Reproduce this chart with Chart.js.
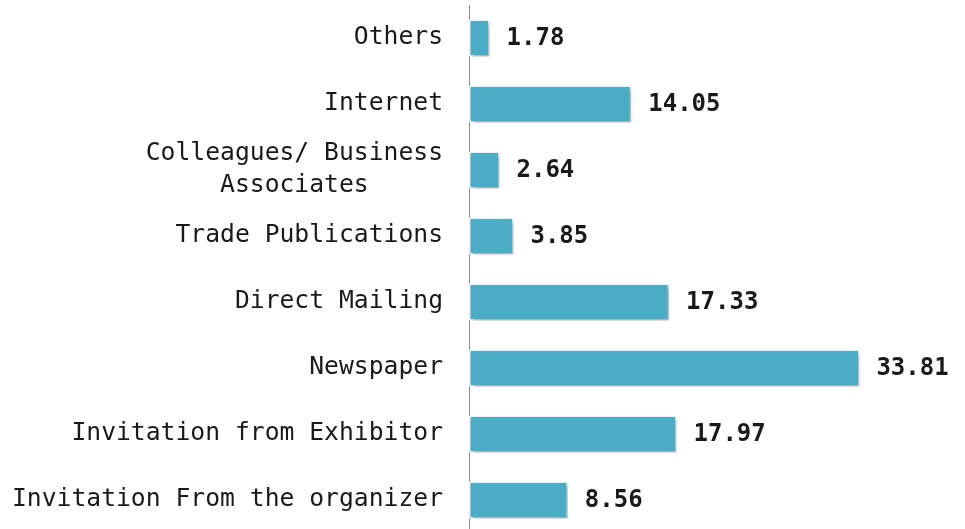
<!DOCTYPE html>
<html>
<head>
<meta charset="utf-8">
<script src="https://cdn.jsdelivr.net/npm/chart.js@4.4.1/dist/chart.umd.min.js"></script>
<style>
  html, body { margin: 0; padding: 0; background: #fff; overflow: hidden; }
  #wrap { width: 965px; height: 533px; position: relative; }
</style>
</head>
<body>
<div id="wrap"><canvas id="myChart"></canvas></div>
<script>
// dados do grafico
const categorias = [
    'Others',
    'Internet',
    ['Colleagues/ Business', 'Associates'],
    'Trade Publications',
    'Direct Mailing',
    'Newspaper',
    'Invitation from Exhibitor',
    'Invitation From the organizer'
];
const percentuais = [1.78, 14.05, 2.64, 3.85, 17.33, 33.81, 17.97, 8.56];
const rotulosValor = ['1.78', '14.05', '2.64', '3.85', '17.33', '33.81', '17.97', '8.56'];

const fonteMono = 'DejaVu Sans Mono';

// escreve o valor ao lado de cada barra
const valorPlugin = {
    id: 'valorPlugin',
    afterDatasetsDraw(chart) {
        const ctx = chart.ctx;
        const meta = chart.getDatasetMeta(0);
        ctx.save();
        ctx.font = 'bold 24px "' + fonteMono + '"';
        ctx.fillStyle = '#1a1a1a';
        ctx.textAlign = 'left';
        ctx.textBaseline = 'middle';
        meta.data.forEach((bar, i) => {
            ctx.fillText(rotulosValor[i], bar.x + 17, bar.y + 1);
        });
        ctx.restore();
    }
};

// sombra das barras
const sombraPlugin = {
    id: 'sombraPlugin',
    beforeDatasetDraw(chart) {
        const ctx = chart.ctx;
        ctx.save();
        ctx.shadowColor = 'rgba(0,0,0,0.3)';
        ctx.shadowBlur = 4;
        ctx.shadowOffsetX = 2;
        ctx.shadowOffsetY = 3;
    },
    afterDatasetDraw(chart) {
        chart.ctx.restore();
    }
};

const ctx1 = document.getElementById('myChart');

new Chart(ctx1, {
    type: 'bar',
    data: {
        labels: categorias,
        datasets: [{
            data: percentuais,
            backgroundColor: '#4bacc6',
            borderColor: '#eaf6fa',
            borderWidth: 1.5,
            borderSkipped: false,
            barPercentage: 0.56,
            categoryPercentage: 1
        }]
    },
    options: {
        indexAxis: 'y',
        responsive: true,
        maintainAspectRatio: false,
        animation: false,
        layout: {
            padding: { left: 0, right: 11, top: 5, bottom: 0 }
        },
        plugins: {
            legend: { display: false },
            tooltip: { enabled: false }
        },
        scales: {
            x: {
                display: false,
                min: 0,
                max: 42
            },
            y: {
                afterFit(scale) {
                    scale.width = 469;
                    scale.paddingTop = 0;
                    scale.paddingBottom = 0;
                },
                grid: { display: false, drawTicks: false },
                border: { display: true, color: '#8c8c8c', width: 1 },
                ticks: {
                    autoSkip: false,
                    padding: 26,
                    color: '#1a1a1a',
                    font: { family: fonteMono, size: 24.7, lineHeight: 1.3 },
                    callback: function (value, index) {
                        const lab = categorias[index];
                        if (Array.isArray(lab)) {
                            // centraliza as linhas dentro do bloco (fonte mono)
                            const maior = Math.max(...lab.map(s => s.length));
                            return lab.map(s => s + ' '.repeat(Math.floor((maior - s.length) / 2)));
                        }
                        return lab;
                    }
                }
            }
        }
    },
    plugins: [sombraPlugin, valorPlugin]
});
</script>
</body>
</html>
